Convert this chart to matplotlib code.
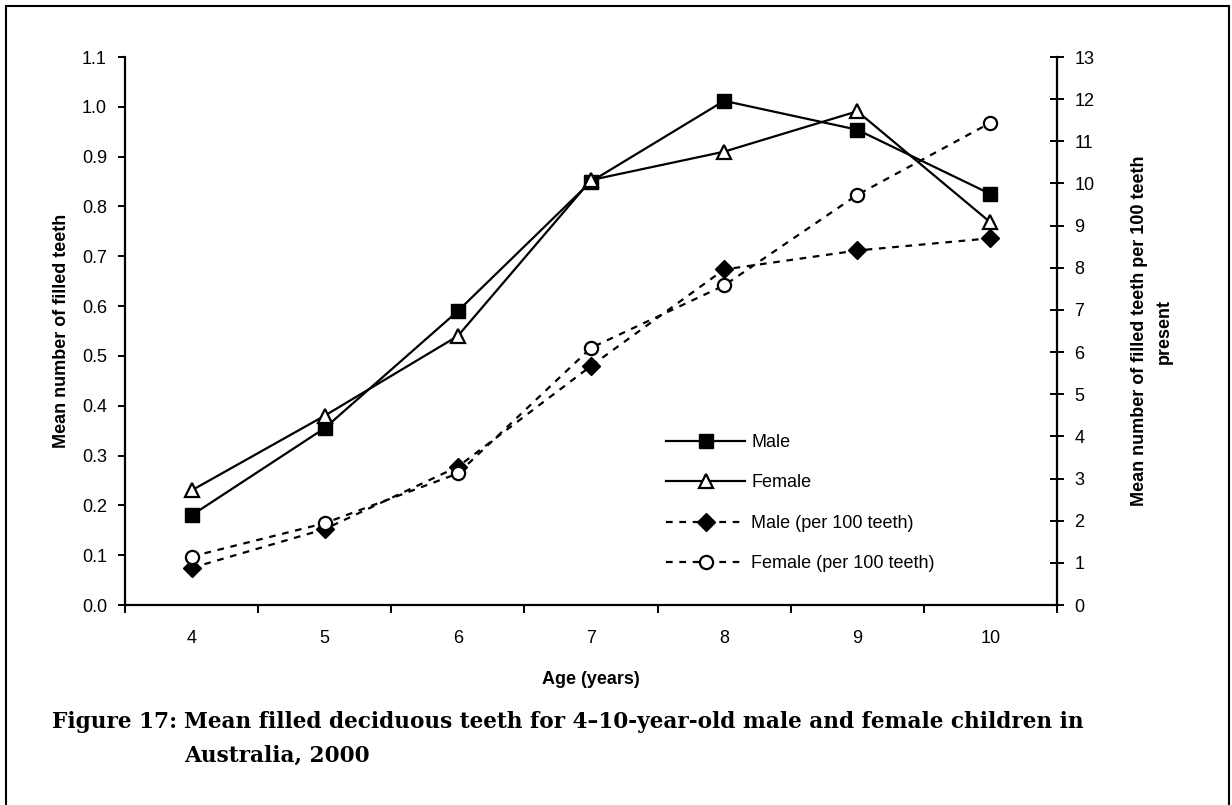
import matplotlib.pyplot as plt
from matplotlib.lines import Line2D
from matplotlib.patches import Rectangle
from matplotlib.ticker import FixedLocator, FormatStrFormatter

# Data
ages = ['4', '5', '6', '7', '8', '9', '10']
male_mean = [0.18, 0.355, 0.59, 0.85, 1.012, 0.954, 0.825]
female_mean = [0.23, 0.38, 0.54, 0.853, 0.91, 0.991, 0.768]
male_per100 = [0.88, 1.8, 3.28, 5.67, 7.96, 8.41, 8.70]
female_per100 = [1.15, 1.94, 3.12, 6.10, 7.58, 9.73, 11.44]

W, H = 1232, 805
plt.rcParams['font.family'] = ['Liberation Sans', 'DejaVu Sans']

fig = plt.figure(figsize=(W / 100, H / 100), dpi=100)
ax = fig.add_axes([125 / W, 1 - 605 / H, (1057 - 125) / W, (605 - 57) / H])
ax2 = ax.twinx()

x = list(range(len(ages)))
lw = 1.6
fs = 13

ax.plot(x, male_mean, color='black', lw=lw, marker='s', ms=10.5,
        mfc='black', mec='black', label='Male', zorder=3)
ax.plot(x, female_mean, color='black', lw=lw, marker='^', ms=10,
        mfc='white', mec='black', mew=1.6, label='Female', zorder=3)
ax2.plot(x, male_per100, color='black', lw=lw, dashes=(3, 3), marker='D', ms=9,
         mfc='black', mec='black', label='Male (per 100 teeth)', zorder=3)
ax2.plot(x, female_per100, color='black', lw=lw, dashes=(3, 3), marker='o', ms=9.5,
         mfc='white', mec='black', mew=1.6, label='Female (per 100 teeth)', zorder=3)

# axes ranges
ax.set_xlim(-0.5, len(ages) - 0.5)
ax.set_ylim(0, 1.1)
ax2.set_ylim(0, 13)

ax.set_yticks([i / 10 for i in range(12)])
ax.yaxis.set_major_formatter(FormatStrFormatter('%.1f'))
ax2.set_yticks(range(14))

ax.set_xticks(x)
ax.set_xticklabels(ages)
ax.xaxis.set_minor_locator(FixedLocator([i - 0.5 for i in range(len(ages) + 1)]))

for a in (ax, ax2):
    a.spines['top'].set_visible(False)
ax.spines['right'].set_visible(False)
ax2.spines['left'].set_visible(False)
ax2.spines['bottom'].set_visible(False)
for s in ('left', 'bottom'):
    ax.spines[s].set_linewidth(1.6)
ax2.spines['right'].set_linewidth(1.6)

ax.tick_params(axis='x', which='major', length=0, pad=18, labelsize=fs)
ax.tick_params(axis='x', which='minor', length=5.5, width=1.4, direction='out')
ax.tick_params(axis='y', length=5, width=1.4, direction='out', pad=8, labelsize=fs)
ax2.tick_params(axis='y', length=10, width=1.4, direction='inout', pad=7.5, labelsize=fs)

ax.set_xlabel('Age (years)', fontsize=fs, fontweight='bold', labelpad=17)
fig.text(62 / W, 1 - 331 / H, 'Mean number of filled teeth', fontsize=fs,
         fontweight='bold', rotation=90, ha='center', va='center')
fig.text(1152 / W, 1 - 331 / H, 'Mean number of filled teeth per 100 teeth\npresent',
         fontsize=fs, fontweight='bold', rotation=90, ha='center', va='center',
         multialignment='center', linespacing=1.55)

# legend
handles = [
    Line2D([], [], color='black', lw=lw, marker='s', ms=10.5, mfc='black'),
    Line2D([], [], color='black', lw=lw, marker='^', ms=10, mfc='white', mew=1.6),
    Line2D([], [], color='black', lw=lw, dashes=(3, 3), marker='D', ms=9, mfc='black'),
    Line2D([], [], color='black', lw=lw, dashes=(3, 3), marker='o', ms=9.5, mfc='white', mew=1.6),
]
labels = ['Male', 'Female', 'Male (per 100 teeth)', 'Female (per 100 teeth)']
fig.legend(handles, labels, loc='upper left', bbox_to_anchor=(666 / W, 1 - 434 / H),
           bbox_transform=fig.transFigure, frameon=False, fontsize=fs,
           handlelength=4.4, handletextpad=0.33, labelspacing=1.3,
           borderpad=0, borderaxespad=0)

# caption
cap = dict(fontsize=15.6, fontweight='bold', family='DejaVu Serif', va='center')
fig.text(52 / W, 1 - 722 / H, 'Figure 17:', **cap)
fig.text(184 / W, 1 - 722 / H,
         'Mean filled deciduous teeth for 4\u201310-year-old male and female children in', **cap)
fig.text(184 / W, 1 - 756 / H, 'Australia, 2000', **cap)

# outer frame
fig.patches.append(Rectangle((6 / W, -0.02), (1229 - 6) / W, 1 - 6 / H + 0.02,
                             transform=fig.transFigure, fill=False, lw=1.5,
                             edgecolor='black'))

fig.savefig('out.png', dpi=100)
